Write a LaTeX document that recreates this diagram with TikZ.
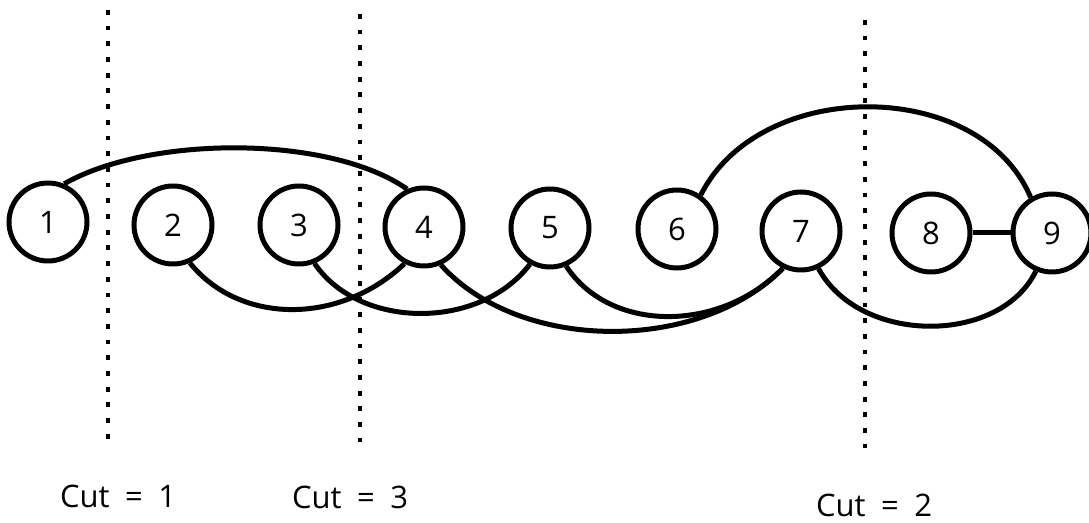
\documentclass[tikz,border=0pt]{standalone}
\usepackage{fontspec}
\setmainfont{Open Sans}
\begin{document}
\begin{tikzpicture}[x=0.5pt,y=-0.5pt,
  vertex/.style={circle,draw,line width=2.5pt,minimum size=39pt,inner sep=0pt,
    font=\fontsize{15.5}{18}\selectfont},
  edge/.style={line width=2.5pt},
  cutline/.style={line width=2.4pt,dash pattern=on 2.4pt off 5.45pt},
  cutlabel/.style={font=\fontsize{15.5}{18}\selectfont,inner sep=0pt}]
\useasboundingbox (0,0) rectangle (1089,523);

% vertices
\node[vertex] (n1) at (48,222) {1};
\node[vertex] (n2) at (173,225) {2};
\node[vertex] (n3) at (299,225) {3};
\node[vertex] (n4) at (424,227) {4};
\node[vertex] (n5) at (550,228) {5};
\node[vertex] (n6) at (677,229) {6};
\node[vertex] (n7) at (801,231) {7};
\node[vertex] (n8) at (931,233) {8};
\node[vertex] (n9) at (1052,233) {9};

% edges above the row
\draw[edge] (n1.67) .. controls (150,135) and (330,135) .. (n4.114);
\draw[edge] (n6.55) .. controls (760,77) and (980,77) .. (n9.121);

% edges below the row
\draw[edge] (n2.-66) .. controls (240,325) and (340,325) .. (n4.-118);
\draw[edge] (n3.-68) .. controls (360,330) and (480,330) .. (n5.-119);
\draw[edge] (n4.-66) .. controls (520,353) and (700,353) .. (n7.-116);
\draw[edge] (n5.-67) .. controls (610,333) and (720,333) .. (n7.-116);
\draw[edge] (n7.-65) .. controls (860,345) and (1000,345) .. (n9.-113);
\draw[edge] (n8) -- (n9);

% cut lines
\coordinate (c1top) at (108,10);
\coordinate (c1bot) at (108,440);
\coordinate (c2top) at (360,14);
\coordinate (c2bot) at (360,442);
\coordinate (c3top) at (865,20);
\coordinate (c3bot) at (865,448);
\draw[cutline] (c1top) -- (c1bot);
\draw[cutline] (c2top) -- (c2bot);
\draw[cutline] (c3top) -- (c3bot);

% cut sizes
\node[cutlabel] (l1) at (118,496) {Cut\hspace{0.5em}=\hspace{0.5em}1};
\node[cutlabel] (l2) at (350,497) {Cut\hspace{0.5em}=\hspace{0.5em}3};
\node[cutlabel] (l3) at (874,505) {Cut\hspace{0.5em}=\hspace{0.5em}2};
\end{tikzpicture}
\end{document}
